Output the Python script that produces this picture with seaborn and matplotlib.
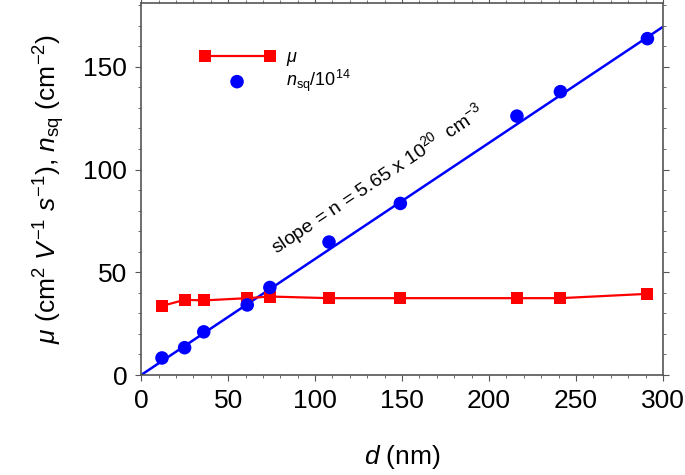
import seaborn as sns
import matplotlib.pyplot as plt
import numpy as np
import pandas as pd

# film thickness (nm) and measured values
thickness = [12, 25, 36, 61, 74, 108, 149, 216, 241, 291]
mobility = [33.6, 36.6, 36.3, 37.4, 38.2, 37.4, 37.4, 37.4, 37.4, 39.5]
sheet_density = [8.3, 13.3, 21.0, 34.1, 42.6, 64.7, 83.5, 126.0, 137.9, 163.7]
fit_slope = 0.565   # n = 5.65e20 cm^-3 -> per nm, /1e14
fit_range = [0, 300]

df = pd.DataFrame({'d': thickness, 'mu': mobility, 'nsq': sheet_density})
fit = pd.DataFrame({'d': fit_range})
fit['nsq'] = fit_slope * fit['d']

sns.set_style('ticks')
plt.rcParams['font.family'] = ['Liberation Sans', 'DejaVu Sans']
plt.rcParams['mathtext.fontset'] = 'custom'
plt.rcParams['mathtext.rm'] = 'Liberation Sans'
plt.rcParams['mathtext.it'] = 'Liberation Sans:italic'
plt.rcParams['text.color'] = 'black'
plt.rcParams['axes.labelcolor'] = 'black'
plt.rcParams['xtick.labelcolor'] = 'black'
plt.rcParams['ytick.labelcolor'] = 'black'

fig = plt.figure(figsize=(6.85, 4.75), dpi=100)
ax = fig.add_axes([0.206, 0.2105, 0.762, 0.783])

#fitted line first so the markers sit on top
sns.lineplot(data=fit, x='d', y='nsq', color='#0000ff', lw=1.8, ax=ax, legend=False)
sns.lineplot(data=df, x='d', y='mu', color='#ff0000', lw=1.6, marker='s', markersize=9,
             markeredgewidth=0, ax=ax, label=r'$\mu$')
sns.scatterplot(data=df, x='d', y='nsq', color='#0000ff', s=95, edgecolor='none', ax=ax,
                label=r'$n_{\rm sq}$/10$^{14}$', zorder=5)

ax.set_xlim(0, 300)
ax.set_ylim(0, 181)
ax.set_xticks(np.arange(0, 301, 50))
ax.set_xticks(np.arange(0, 301, 10), minor=True)
ax.set_yticks(np.arange(0, 151, 50))
ax.set_yticks(np.arange(0, 181, 10), minor=True)

for side in ['top', 'right', 'bottom', 'left']:
    ax.spines[side].set_visible(True)
    ax.spines[side].set_color('#555555')
    ax.spines[side].set_linewidth(1.2)
ax.tick_params(which='both', direction='out', top=True, right=True, color='#555555',
               labeltop=False, labelright=False)
ax.tick_params(which='major', length=4, labelsize=19, pad=6)
ax.tick_params(which='minor', length=2.5)

ax.set_xlabel(r'$d$ (nm)', fontsize=19, labelpad=22)
ax.set_ylabel(r'$\mu$ (cm$^2$ $V^{-1}$ $s^{-1}$), $n_{\rm sq}$ (cm$^{-2}$)', fontsize=19, labelpad=12)

ax.text(80, 56, r'slope = n = 5.65 x 10$^{20}$  cm$^{-3}$', fontsize=14, rotation=33.7,
        rotation_mode='anchor', ha='left', va='bottom')

ax.legend(loc='upper left', bbox_to_anchor=(0.08, 0.92), frameon=False, fontsize=13,
          numpoints=2, scatterpoints=1, handlelength=4.2, handletextpad=0.6, labelspacing=0.0)

fig.savefig('out.png', dpi=100)
